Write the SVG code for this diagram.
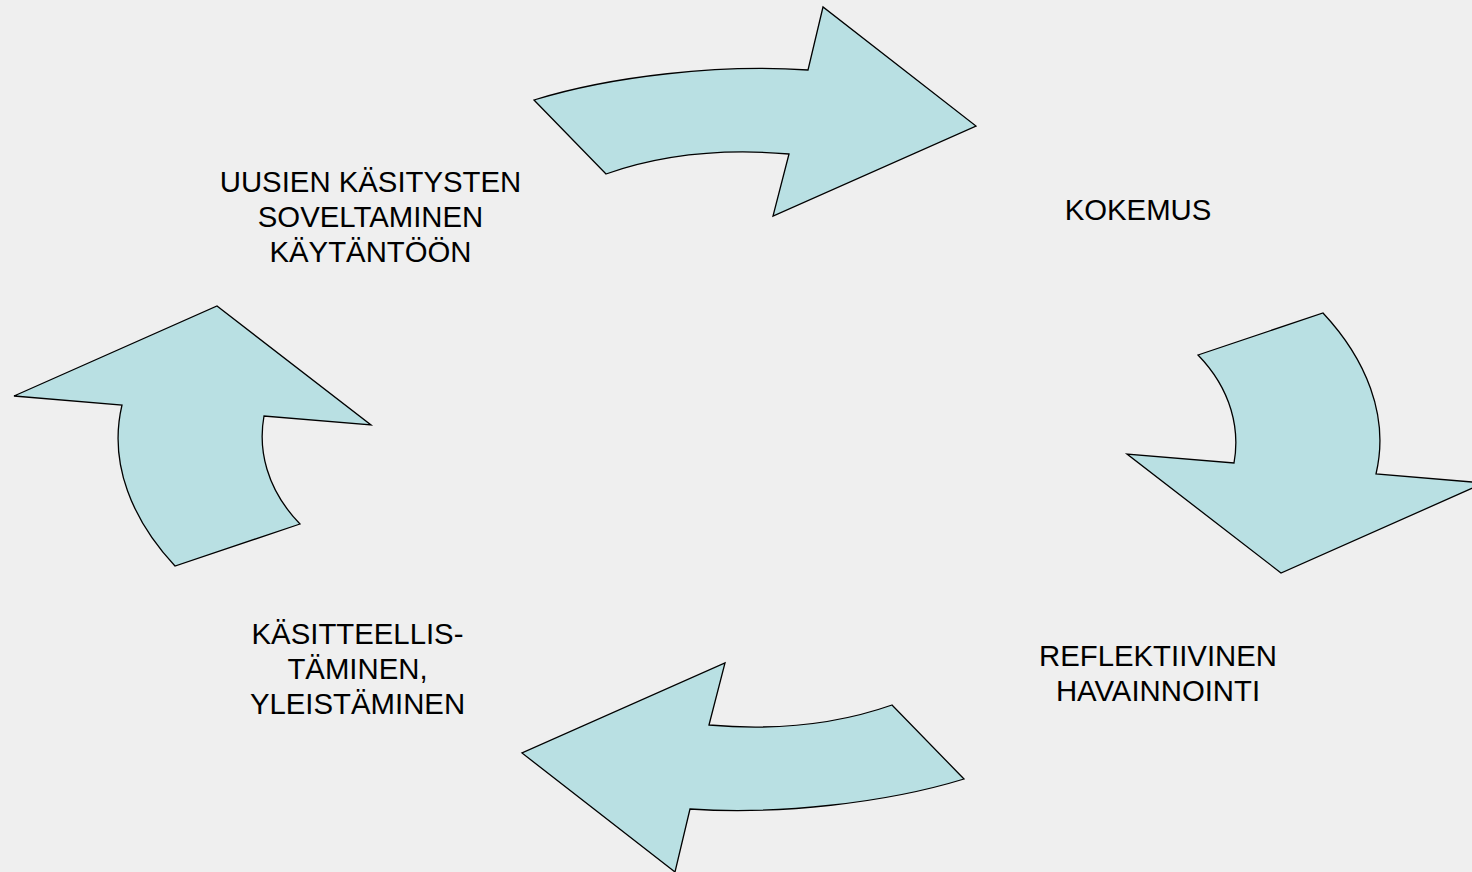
<svg xmlns="http://www.w3.org/2000/svg" width="1472" height="872" viewBox="0 0 1472 872">
<style>
.arrow{fill:#b9e0e3;stroke:#000;stroke-width:1.3;stroke-linejoin:miter}
.lbl{font-family:"Liberation Sans",Arial,sans-serif;font-size:29.33px;fill:#000;text-anchor:middle}
</style>
<defs>
<path id="arcH" d="M534,100 C612,76 720,64 808,70 L823,7 L976,126 L773,216 L789,154 C720,148 660,155 606,174 Z"/>
<path id="arcV" d="M1198,355 L1323,313 C1365,358 1390,415 1376,474 L1484,483 L1281,573 L1127,454 L1234,463 C1240,430 1232,390 1198,355 Z"/>
</defs>
<rect width="1472" height="872" fill="#efefef"/>
<g id="connectors">
<g id="arrow-top"><use href="#arcH" class="arrow"/></g>
<g id="arrow-right"><use href="#arcV" class="arrow"/></g>
<g id="arrow-bottom"><use href="#arcH" class="arrow" transform="rotate(180 749 439.5)"/></g>
<g id="arrow-left"><use href="#arcV" class="arrow" transform="rotate(180 749 439.5)"/></g>
</g>
<g id="node-soveltaminen">
<text class="lbl" x="370.5" y="192">UUSIEN KÄSITYSTEN</text>
<text class="lbl" x="370.5" y="227">SOVELTAMINEN</text>
<text class="lbl" x="370.5" y="262">KÄYTÄNTÖÖN</text>
</g>
<g id="node-kokemus">
<text class="lbl" x="1138" y="220">KOKEMUS</text>
</g>
<g id="node-reflektiivinen">
<text class="lbl" x="1158" y="666">REFLEKTIIVINEN</text>
<text class="lbl" x="1158" y="701">HAVAINNOINTI</text>
</g>
<g id="node-kasitteellistaminen">
<text class="lbl" x="357.5" y="644">KÄSITTEELLIS-</text>
<text class="lbl" x="357.5" y="679">TÄMINEN,</text>
<text class="lbl" x="357.5" y="714">YLEISTÄMINEN</text>
</g>
</svg>
